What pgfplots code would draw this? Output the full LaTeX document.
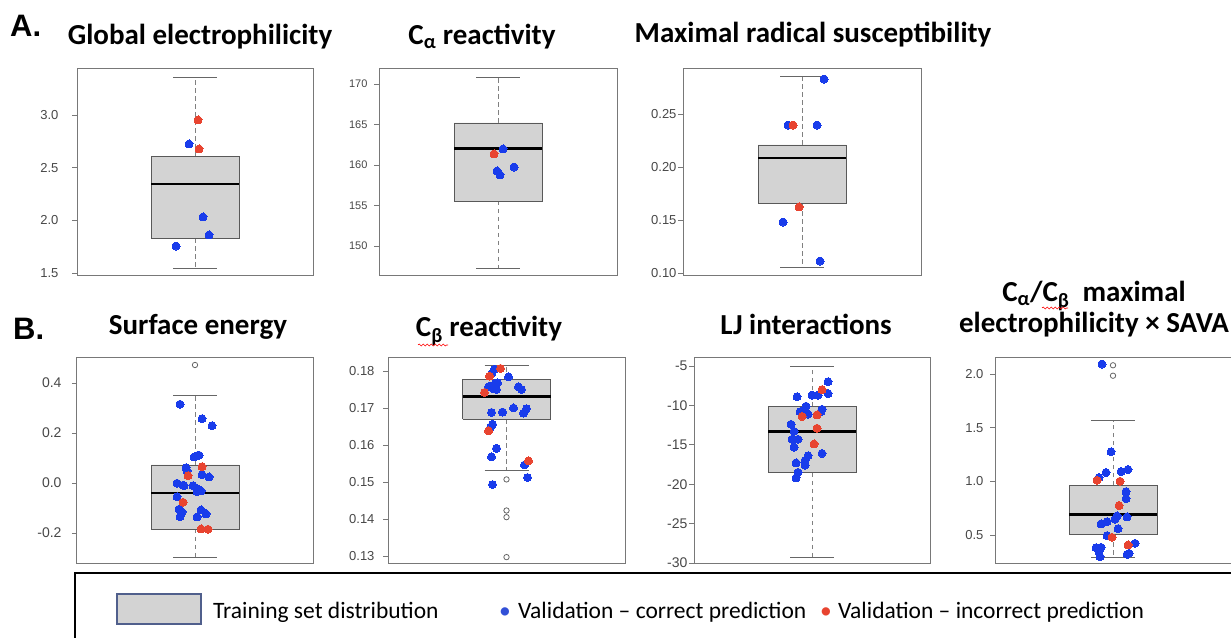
\documentclass[border=0pt]{standalone}
\usepackage{pgfplots}
\pgfplotsset{compat=1.18}
\usepackage{fontspec}
\setmainfont{Carlito}
\newfontfamily\tickfont{Liberation Sans}
\usetikzlibrary{decorations.pathmorphing}
\definecolor{vblue}{RGB}{25,60,235}
\definecolor{vred}{RGB}{232,68,48}
\definecolor{lblue}{RGB}{50,80,215}
\definecolor{boxgray}{RGB}{211,211,211}
\definecolor{framegray}{RGB}{120,120,120}
\definecolor{swatchedge}{RGB}{80,95,140}
\pgfplotsset{
  rpanel/.style={
    scale only axis, anchor=south west,
    xtick=\empty, axis line style={draw=framegray, line width=1pt},
    ytick pos=left, tick align=outside, major tick length=5pt,
    tick style={draw=framegray, line width=0.9pt},
    yticklabel style={font=\tickfont\fontsize{13}{13}\selectfont, text=black!72},
    clip=false,
  },
  bx/.style={fill=boxgray, draw=black!65, line width=0.9pt, line join=miter},
  md/.style={black, line width=2.6pt},
  wk/.style={black!50, line width=0.9pt, dash pattern=on 4.5pt off 3.5pt},
  cp/.style={black!60, line width=0.9pt},
  vb/.style={color=vblue, only marks, mark=*, mark size=4pt, mark options={draw=vblue, line width=0pt, fill=vblue}},
  vr/.style={color=vred, only marks, mark=*, mark size=4pt, mark options={draw=vred, line width=0pt, fill=vred}},
  ol/.style={color=black!60, only marks, mark=o, mark size=2.7pt, mark options={draw=black!60, line width=0.8pt}},
}
% q1, q3, median, lower whisker, upper whisker
\newcommand\rbox[5]{%
  \addplot[wk] coordinates {(0,#2) (0,#5)};
  \addplot[wk] coordinates {(0,#1) (0,#4)};
  \addplot[cp] coordinates {(-22,#5) (22,#5)};
  \addplot[cp] coordinates {(-22,#4) (22,#4)};
  \addplot[bx] coordinates {(-44,#1) (44,#1) (44,#2) (-44,#2) (-44,#1)};
  \addplot[md] coordinates {(-44,#3) (44,#3)};
}
\newcommand\tfont{\bfseries\fontsize{29}{29}\selectfont}
\newfontfamily\panfont{Liberation Sans}
\newcommand\pfont{\panfont\bfseries\fontsize{31}{31}\selectfont}
\newcommand\lfont{\fontsize{23.5}{23.5}\selectfont}
\begin{document}
\begin{tikzpicture}
\path[use as bounding box] (0,0) rectangle (1231pt,637pt);

% ---------------- Row A ----------------
\node[anchor=base west, font=\pfont, inner sep=0] at (10pt,600pt) {A.};
\node[anchor=base, font=\tfont, inner sep=0] at (200pt,592pt) {Global electrophilicity};
\node[anchor=base, font=\tfont, inner sep=0] at (482pt,592pt) {C\textsubscript{α} reactivity};
\node[anchor=base, font=\tfont, inner sep=0] at (813pt,594pt) {Maximal radical susceptibility};

\begin{axis}[rpanel, at={(77pt,361pt)}, width=236pt, height=207pt,
  xmin=-118, xmax=118, ymin=1.4715, ymax=3.437,
  ytick={1.5,2,2.5,3}, yticklabels={1.5,2.0,2.5,3.0},
  yticklabel style={xshift=-10pt}]
  \rbox{1.832}{2.602}{2.345}{1.547}{3.361}
  \addplot[vb] coordinates {(-6,2.725) (8,2.032) (14,1.861) (-19,1.756)};
  \addplot[vr] coordinates {(3,2.953) (4,2.678)};
\end{axis}

\begin{axis}[rpanel, at={(379pt,361pt)}, width=238pt, height=207pt,
  xmin=-119, xmax=119, ymin=146.3, ymax=171.85,
  ytick={150,155,160,165,170}, yticklabels={150,155,160,165,170},
  yticklabel style={xshift=-3pt, font=\tickfont\fontsize{11}{11}\selectfont}]
  \rbox{155.56}{165.19}{162.0}{147.28}{170.86}
  \addplot[vb] coordinates {(5,161.98) (-1,159.26) (2,158.77) (16,159.75)};
  \addplot[vr] coordinates {(-4,161.36)};
\end{axis}

\begin{axis}[rpanel, at={(683pt,361pt)}, width=238pt, height=207pt,
  xmin=-119, xmax=119, ymin=0.0972, ymax=0.2925,
  ytick={0.10,0.15,0.20,0.25}, yticklabels={0.10,0.15,0.20,0.25},
  yticklabel style={xshift=2pt}]
  \rbox{0.1660}{0.2208}{0.2085}{0.1057}{0.2858}
  \addplot[vb] coordinates {(22,0.2830) (-14,0.2396) (15,0.2396) (-19,0.1481) (18,0.1113)};
  \addplot[vr] coordinates {(-9,0.2396) (-3,0.1623)};
\end{axis}

% ---------------- Row B ----------------
\node[anchor=base west, font=\pfont, inner sep=0] at (13pt,297pt) {B.};
\node[anchor=base, font=\tfont, inner sep=0] at (198pt,302pt) {Surface energy};
\node[anchor=base, font=\tfont, inner sep=0] at (489pt,300pt) {C\textsubscript{β} reactivity};
\draw[red, line width=0.6pt, decorate, decoration={snake, amplitude=1pt, segment length=4pt}] (418pt,292pt) -- (448pt,292pt);
\node[anchor=base, font=\tfont, inner sep=0] at (1094pt,335pt) {C\textsubscript{α}/C\textsubscript{β}\ \ maximal};
\draw[red, line width=0.6pt, decorate, decoration={snake, amplitude=1pt, segment length=4pt}] (1042pt,329pt) -- (1068pt,329pt);
\node[anchor=base, font=\tfont, inner sep=0] at (806pt,302pt) {LJ interactions};
\node[anchor=base, font=\tfont, inner sep=0] at (1094pt,304pt) {electrophilicity × SAVA};

\begin{axis}[rpanel, at={(77pt,73pt)}, width=236pt, height=206pt,
  xmin=-118, xmax=118, ymin=-0.324, ymax=0.5,
  ytick={-0.2,0,0.2,0.4}, yticklabels={-0.2,0.0,0.2,0.4},
  yticklabel style={xshift=-7pt, font=\tickfont\fontsize{14}{14}\selectfont}]
  \rbox{-0.184}{0.072}{-0.04}{-0.296}{0.352}
  \addplot[ol] coordinates {(0,0.472)};
  \addplot[vb] coordinates {(-15,0.315) (7,0.257) (17,0.229) (-1,0.104) (2,0.109) (4,0.111)
    (-9,0.061) (-8,0.048) (7,0.033) (14,0.024) (-18,-0.001) (-12,-0.009) (-11,-0.011)
    (-2,-0.011) (2,-0.024) (4,-0.028) (6,-0.032) (2,-0.035) (-18,-0.055) (-16,-0.105)
    (-13,-0.116) (6,-0.108) (11,-0.124) (-15,-0.135) (2,-0.136)};
  \addplot[vr] coordinates {(7,0.065) (-7,0.029) (-12,-0.077) (6,-0.184) (13,-0.185)};
\end{axis}

\begin{axis}[rpanel, at={(388pt,73pt)}, width=237pt, height=206pt,
  xmin=-118.5, xmax=118.5, ymin=0.12784, ymax=0.18351,
  ytick={0.13,0.14,0.15,0.16,0.17,0.18}, yticklabels={0.13,0.14,0.15,0.16,0.17,0.18},
  yticklabel style={xshift=-5pt}]
  \rbox{0.1670}{0.1776}{0.1731}{0.1530}{0.1814}
  \addplot[ol] coordinates {(0,0.1507) (0,0.1423) (0,0.1405) (0,0.1297)};
  \addplot[vb] coordinates {(-12,0.1805) (-15,0.1792) (2,0.1784) (-18,0.1757) (-14,0.1760)
    (-11,0.1766) (-9,0.1768) (-10,0.1750) (-13,0.1752) (12,0.1757) (15,0.1750)
    (-15,0.1688) (-4,0.1689) (7,0.1700) (20,0.1698) (17,0.1686) (-14,0.1656)
    (-16,0.1647) (-10,0.1591) (-15,0.1568) (18,0.1546) (21,0.1512) (-14,0.1493)};
  \addplot[vr] coordinates {(-6,0.1807) (-17,0.1786) (-22,0.1742) (-18,0.1638) (22,0.1557)};
\end{axis}

\begin{axis}[rpanel, at={(694pt,73pt)}, width=236pt, height=206pt,
  xmin=-118, xmax=118, ymin=-30.13, ymax=-3.985,
  ytick={-30,-25,-20,-15,-10,-5}, yticklabels={-30,-25,-20,-15,-10,-5},
  yticklabel style={xshift=2pt, font=\tickfont\fontsize{14}{14}\selectfont}]
  \rbox{-18.56}{-10.13}{-13.3}{-29.3}{-5.0}
  \addplot[vb] coordinates {(-15,-8.9) (0,-8.7) (6,-8.7) (16,-7.0) (16,-8.5) (-6,-10.1)
    (-8,-10.6) (-12,-10.8) (-4,-11.1) (10,-10.5) (9,-10.8) (-21,-12.4) (-18,-13.3)
    (-20,-14.3) (-14,-14.3) (-18,-15.3) (10,-16.1) (-4,-16.4) (-7,-17.0) (-16,-17.3)
    (-7,-17.6) (-14,-18.5) (-16,-19.2)};
  \addplot[vr] coordinates {(10,-8.0) (-10,-11.4) (5,-11.2) (5,-12.9) (2,-14.9)};
\end{axis}

\begin{axis}[rpanel, at={(995pt,73pt)}, width=236pt, height=206pt,
  xmin=-118, xmax=118, ymin=0.2297, ymax=2.149,
  ytick={0.5,1,1.5,2}, yticklabels={0.5,1.0,1.5,2.0},
  yticklabel style={xshift=-3pt}]
  \rbox{0.506}{0.964}{0.693}{0.291}{1.564}
  \addplot[ol] coordinates {(0,2.081) (0,1.984)};
  \addplot[vb] coordinates {(-11,2.093) (-2,1.275) (-7,1.082) (-14,1.035) (8,1.091) (15,1.110)
    (13,0.904) (13,0.839) (14,0.668) (4,0.677) (2,0.646) (-6,0.624) (-12,0.603) (5,0.559)
    (-6,0.494) (22,0.422) (-17,0.382) (-12,0.385) (-14,0.344) (16,0.329) (14,0.319) (-13,0.298)};
  \addplot[vr] coordinates {(-16,1.010) (7,1.001) (6,0.774) (-1,0.478) (15,0.407)};
\end{axis}

% ---------------- Legend ----------------
\draw[black, line width=1.6pt] (75pt,-10pt) -- (75pt,64pt) -- (1260pt,64pt);
\filldraw[fill=boxgray, draw=swatchedge, line width=1.2pt] (117pt,13pt) rectangle (201pt,43pt);
\node[anchor=base west, font=\lfont, inner sep=0] at (213pt,19pt) {Training set distribution};
\node[anchor=base, text=lblue, font=\lfont, inner sep=0] at (505pt,19pt) {•};
\node[anchor=base west, font=\lfont, inner sep=0] at (518pt,19pt) {Validation – correct prediction};
\node[anchor=base, text=vred, font=\lfont, inner sep=0] at (826pt,19pt) {•};
\node[anchor=base west, font=\lfont, inner sep=0] at (838pt,19pt) {Validation – incorrect prediction};
\end{tikzpicture}
\end{document}
